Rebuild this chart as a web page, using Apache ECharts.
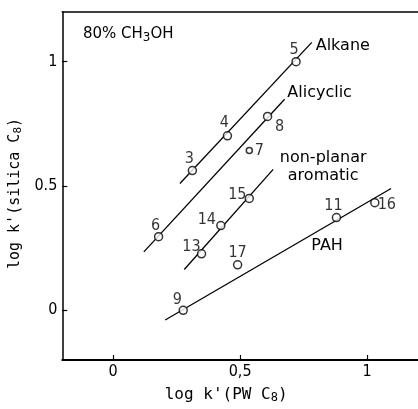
<!DOCTYPE html>
<html><head><meta charset="utf-8">
<script src="https://cdn.jsdelivr.net/npm/echarts@6/dist/echarts.min.js"></script>
<style>html,body{margin:0;padding:0;background:#fff}#c{width:418px;height:409px}</style>
</head><body><div id="c"></div>
<script>
// ---- data ----
const pointIds = ['3','4','5','6','7','8','9','11','13','14','15','16','17'];
const pointX   = [0.312,0.450,0.720,0.179,0.536,0.608,0.276,0.879,0.348,0.424,0.536,1.030,0.490];
const pointY   = [0.562,0.702,1.000,0.296,0.643,0.780,0.000,0.373,0.227,0.341,0.450,0.433,0.183];

const lineNames = ['Alkane','Alicyclic','non-planar\naromatic','PAH'];
const lineX0 = [0.263, 0.121, 0.280, 0.205];
const lineY0 = [0.510, 0.235, 0.164, -0.039];
const lineX1 = [0.782, 0.675, 0.630, 1.094];
const lineY1 = [1.078, 0.849, 0.567, 0.490];

const tickValues  = [0, 0.5, 1];
const xTickLabels = ['0', '0,5', '1'];
const yTickLabels = ['0', '0.5', '1'];

// ---- styling ----
const INK = '#000';
const NUMFONT = '"Liberation Sans Narrow", "DejaVu Sans Condensed", "Liberation Sans", sans-serif';
const TXTFONT = '"DejaVu Sans", sans-serif';
const MONO = '"DejaVu Sans Mono", monospace';

const labelOffset = {'3':[-3,-12],'4':[-3,-13],'5':[-2,-12],'6':[-3,-11],'7':[10,0],'8':[12,10],
  '9':[-6,-10],'11':[-3,-12],'13':[-10,-7],'14':[-14,-6],'15':[-12,-4],'16':[12,2],'17':[0,-12]};
const lineLabelOffset = [[31,4],[35,-6],[50,-3],[-64,57]];

const chart = echarts.init(document.getElementById('c'), null, {renderer:'canvas'});

const lineSeries = lineNames.map((nm, i) => ({
  type: 'line', silent: true, animation: false,
  symbol: 'circle', symbolSize: 1, showSymbol: true,
  itemStyle: {color: 'rgba(0,0,0,0)'},
  lineStyle: {color: INK, width: 1.3},
  z: 2,
  data: [
    [lineX0[i], lineY0[i]],
    {value: [lineX1[i], lineY1[i]],
     label: {show: true, position: 'inside', formatter: nm, offset: lineLabelOffset[i],
             color: INK, fontFamily: TXTFONT, fontSize: 16, align: 'center', lineHeight: 18}}
  ]
}));

const pointSeries = {
  type: 'scatter', silent: true, animation: false, z: 5,
  symbol: 'circle',
  symbolSize: (v, p) => p.name === '7' ? 6 : 8,
  itemStyle: {color: '#fff', borderColor: INK, borderWidth: 1.5},
  label: {show: true, position: 'inside', formatter: '{b}', color: INK, fontFamily: NUMFONT, fontSize: 16},
  data: pointIds.map((id, i) => ({name: id, value: [pointX[i], pointY[i]], label: {offset: labelOffset[id]}}))
};

chart.setOption({
  animation: false,
  backgroundColor: '#fff',
  title: {
    text: '80% CH{s|3}OH', left: 83, top: 25, padding: 0,
    textStyle: {fontFamily: TXTFONT, fontSize: 15, fontWeight: 'normal', color: INK,
      rich: {s: {fontFamily: TXTFONT, fontSize: 12, color: INK, padding: [7,0,0,0], verticalAlign: 'bottom'}}}
  },
  grid: {left: 57, top: 12, width: 362, height: 351, containLabel: false},
  xAxis: [{
    type: 'value', min: -0.2, max: 1.2, interval: 0.1,
    splitLine: {show: false},
    axisLine: {show: true, onZero: false, lineStyle: {color: INK, width: 2}},
    axisTick: {show: true, inside: true, length: 5, customValues: tickValues, lineStyle: {color: INK, width: 1.2}},
    axisLabel: {show: true, customValues: tickValues, margin: 4, color: INK, fontFamily: NUMFONT, fontSize: 16,
      formatter: v => xTickLabels[tickValues.findIndex(t => Math.abs(t - v) < 1e-6)] ?? ''},
    name: "log k'(PW C{s|8})", nameLocation: 'middle', nameGap: 26,
    nameTextStyle: {fontFamily: MONO, fontSize: 16, color: INK, padding: [0,28,0,0],
      rich: {s: {fontFamily: MONO, fontSize: 12, color: INK, padding: [6,0,0,0], verticalAlign: 'bottom'}}}
  }, {
    type: 'value', min: -0.2, max: 1.2, position: 'top',
    splitLine: {show: false}, axisTick: {show: false}, axisLabel: {show: false},
    axisLine: {show: true, onZero: false, lineStyle: {color: INK, width: 1.5}}
  }],
  yAxis: [{
    type: 'value', min: -0.2, max: 1.2, interval: 0.1,
    splitLine: {show: false},
    axisLine: {show: true, onZero: false, lineStyle: {color: INK, width: 1.5}},
    axisTick: {show: true, inside: true, length: 5, customValues: tickValues, lineStyle: {color: INK, width: 1.2}},
    axisLabel: {show: true, customValues: tickValues, margin: 5, color: INK, fontFamily: NUMFONT, fontSize: 16,
      formatter: v => yTickLabels[tickValues.findIndex(t => Math.abs(t - v) < 1e-6)] ?? ''},
    name: "log k'(silica C{s|8})", nameLocation: 'middle', nameGap: 28,
    nameTextStyle: {fontFamily: MONO, fontSize: 15, color: INK, padding: [0,15,0,0],
      rich: {s: {fontFamily: MONO, fontSize: 11, color: INK, padding: [5,0,0,0], verticalAlign: 'bottom'}}}
  }],
  series: [...lineSeries, pointSeries]
});
</script></body></html>
